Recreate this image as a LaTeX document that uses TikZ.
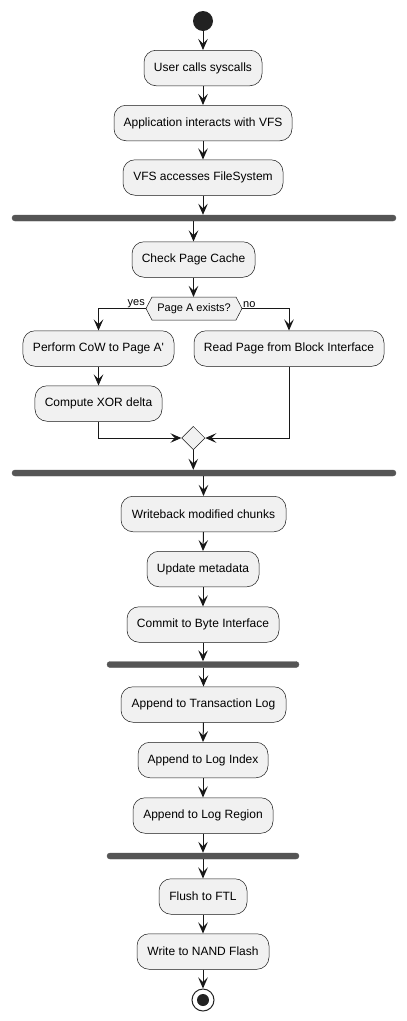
\documentclass[tikz,border=0pt]{standalone}
\usepackage{fontspec}
\setmainfont{Liberation Sans}
\usetikzlibrary{arrows.meta,shapes.geometric}
\definecolor{boxfill}{HTML}{F1F1F1}
\definecolor{lncol}{HTML}{181818}
\definecolor{barfill}{HTML}{555555}
\definecolor{dotcol}{HTML}{222222}
\begin{document}
\begin{tikzpicture}[x=1bp,y=-1bp,
  act/.style={draw=lncol, line width=0.5bp, fill=boxfill, rounded corners=12bp,
    minimum height=35.5bp, inner xsep=6bp, inner ysep=0pt,
    font=\fontsize{12bp}{14bp}\selectfont},
  syncbar/.style={fill=barfill, draw=barfill, rounded corners=3bp, minimum height=6bp, inner sep=0pt},
  flow/.style={draw=lncol, line width=1bp, -{Stealth[length=11bp,width=9.5bp,inset=4.5bp]}},
  lbl/.style={font=\fontsize{11bp}{13bp}\selectfont, inner sep=1bp},
  hexfill/.style={draw=lncol, line width=0.5bp, fill=boxfill}
]
\useasboundingbox (0,0) rectangle (406,1021);
\fill[white] (0,0) rectangle (406,1021);

% start
\node[circle, fill=dotcol, minimum size=20bp, inner sep=0pt] (start) at (203,21) {};

\node[act, minimum width=118bp] (b1) at (203,68) {User calls syscalls};
\node[act, minimum width=178bp] (b2) at (203,123) {Application interacts with VFS};
\node[act, minimum width=160bp] (b3) at (203,177.5) {VFS accesses FileSystem};
\node[syncbar, minimum width=384bp] (bar1) at (204,218) {};
\node[act, minimum width=123bp] (cpc) at (193.5,259.5) {Check Page Cache};

% decision hexagon
\draw[hexfill] (146,308.5) -- (152,297) -- (236,297) -- (242,308.5) -- (236,320) -- (152,320) -- cycle;
\node[font=\fontsize{11bp}{13bp}\selectfont, inner sep=0pt] (dec) at (194,308.5) {Page A exists?};
\coordinate (decL) at (146,308.5);
\coordinate (decR) at (242,308.5);
\coordinate (decT) at (193.5,297);

\node[act, minimum width=151bp] (cow) at (98.5,348.5) {Perform CoW to Page A\textquotesingle};
\node[act, minimum width=190bp] (read) at (289,348.5) {Read Page from Block Interface};
\node[act, minimum width=127bp] (xor) at (98.5,403.5) {Compute XOR delta};
\node[diamond, draw=lncol, line width=0.5bp, fill=boxfill, minimum width=23.4bp, minimum height=23.4bp, inner sep=0pt] (mrg) at (193.3,438) {};
\node[syncbar, minimum width=384bp] (bar2) at (204,473) {};

\node[act, minimum width=165bp] (wb) at (203.5,514) {Writeback modified chunks};
\node[act, minimum width=112bp] (um) at (203,569) {Update metadata};
\node[act, minimum width=152bp] (cm) at (203,624.5) {Commit to Byte Interface};
\node[syncbar, minimum width=192bp] (bar3) at (203,664.5) {};
\node[act, minimum width=165bp] (atl) at (203.5,704.5) {Append to Transaction Log};
\node[act, minimum width=130bp] (ali) at (203,760) {Append to Log Index};
\node[act, minimum width=140bp] (alr) at (203,815.5) {Append to Log Region};
\node[syncbar, minimum width=192bp] (bar4) at (203,856) {};
\node[act, minimum width=88bp] (fl) at (203,896.5) {Flush to FTL};
\node[act, minimum width=132bp] (nand) at (203,951.5) {Write to NAND Flash};

% end
\node[circle, draw=dotcol, line width=1bp, fill=white, minimum size=22bp, inner sep=0pt] (stop) at (203,1000) {};
\fill[dotcol] (stop.center) circle[radius=6bp];

% connectors
\draw[flow] (start) -- (b1.north);
\draw[flow] (b1.south) -- (b2.north);
\draw[flow] (b2.south) -- (b3.north);
\draw[flow] (b3.south) -- (b3.south |- bar1.north);
\draw[flow] (bar1.south -| cpc.north) -- (cpc.north);
\draw[flow] (cpc.south) -- (cpc.south |- decT);
\draw[flow] (decL) -| (cow.north);
\draw[flow] (decR) -| (read.north);
\node[lbl, anchor=south east] at (decL) {yes};
\node[lbl, anchor=south west] at (decR) {no};
\draw[flow] (cow.south) -- (xor.north);
\draw[flow] (xor.south) |- (mrg.west);
\draw[flow] (read.south) |- (mrg.east);
\draw[flow] (mrg.south) -- (mrg.south |- bar2.north);
\draw[flow] (bar2.south -| wb.north) -- (wb.north);
\draw[flow] (wb.south) -- (um.north);
\draw[flow] (um.south) -- (cm.north);
\draw[flow] (cm.south) -- (cm.south |- bar3.north);
\draw[flow] (bar3.south -| atl.north) -- (atl.north);
\draw[flow] (atl.south) -- (ali.north);
\draw[flow] (ali.south) -- (alr.north);
\draw[flow] (alr.south) -- (alr.south |- bar4.north);
\draw[flow] (bar4.south -| fl.north) -- (fl.north);
\draw[flow] (fl.south) -- (nand.north);
\draw[flow] (nand.south) -- (stop.north);
\end{tikzpicture}
\end{document}
